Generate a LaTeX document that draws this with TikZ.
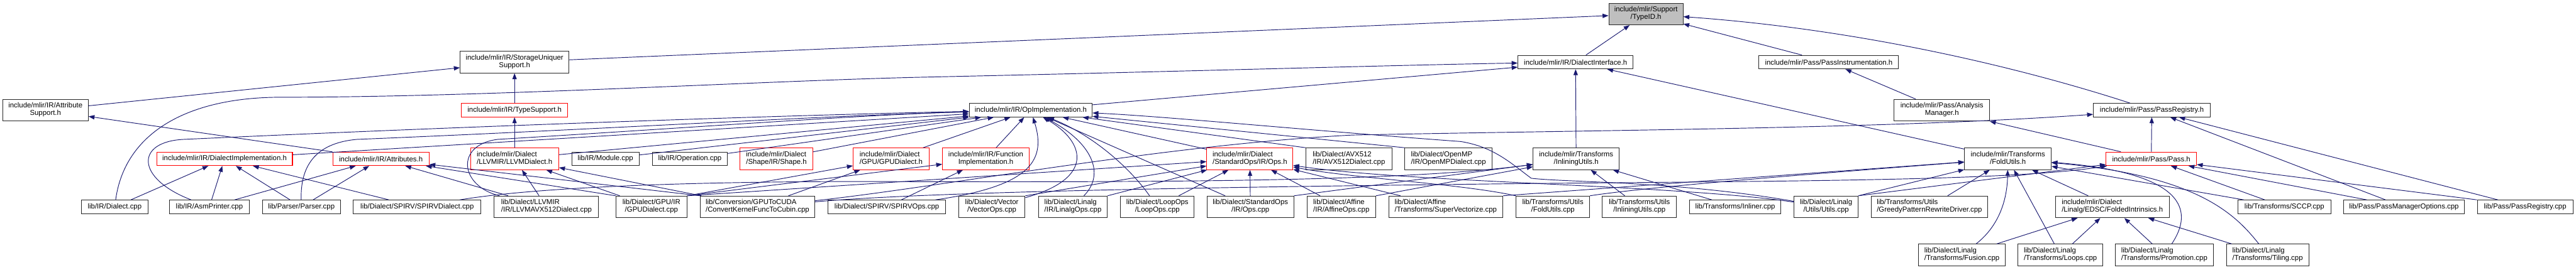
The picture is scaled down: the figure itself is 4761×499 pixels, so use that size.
\documentclass[tikz,border=0pt]{standalone}
\usepackage{fontspec}
\setmainfont{Liberation Sans}
\usetikzlibrary{arrows.meta}
\definecolor{incblue}{HTML}{191970}
\definecolor{rootgray}{HTML}{BFBFBF}
\newcommand\twoline[2]{\begin{tabular}{@{}c@{}}\multicolumn{1}{@{}l@{}}{#1}\\#2\end{tabular}}

\begin{document}
\begin{tikzpicture}[x=1bp, y=-1bp,
        filenode/.style = {rectangle, draw=black!85, line width=1.2bp, fill=white, inner sep=0pt, minimum height=25bp, font=\fontsize{13.3}{14}\selectfont},
        tallnode/.style = {filenode, minimum height=40bp},
        redframe/.style = {draw=red},
        incl/.style = {draw=incblue, line width=1.1bp, -{Triangle[length=11bp, width=8bp]}}
    ]
    \useasboundingbox (0,0) rectangle (4761,499);

    \node[tallnode, fill=rootgray, minimum width=137bp] (typeid) at (3042,26) {\twoline{include/mlir/Support}{/TypeID.h}};

    \node[tallnode, minimum width=201bp] (storage) at (951,115) {\twoline{include/mlir/IR/StorageUniquer}{Support.h}};
    \node[filenode, minimum width=213bp] (dlgif) at (2912,115) {include/mlir/IR/DialectInterface.h};
    \node[filenode, minimum width=258bp] (passinst) at (3380,115) {include/mlir/Pass/PassInstrumentation.h};

    \node[tallnode, minimum width=158bp] (attrsup) at (84,204) {\twoline{include/mlir/IR/Attribute}{Support.h}};
    \node[filenode, redframe, minimum width=196bp] (typesup) at (951,204) {include/mlir/IR/TypeSupport.h};
    \node[filenode, minimum width=227bp] (opimpl) at (1905,204) {include/mlir/IR/OpImplementation.h};
    \node[tallnode, minimum width=177bp] (analysis) at (3589,204) {\twoline{include/mlir/Pass/Analysis}{Manager.h}};
    \node[filenode, minimum width=216bp] (passregh) at (3977,204) {include/mlir/Pass/PassRegistry.h};

    \node[filenode, redframe, minimum width=251bp] (dlimpl) at (415,294) {include/mlir/IR/DialectImplementation.h};
    \node[filenode, redframe, minimum width=178bp] (attrs) at (704,294) {include/mlir/IR/Attributes.h};
    \node[tallnode, redframe, minimum width=163bp] (llvmh) at (951,294) {\twoline{include/mlir/Dialect}{/LLVMIR/LLVMDialect.h}};
    \node[filenode, minimum width=124bp] (modcpp) at (1119,294) {lib/IR/Module.cpp};
    \node[filenode, minimum width=139bp] (opcpp) at (1275,294) {lib/IR/Operation.cpp};
    \node[tallnode, redframe, minimum width=134bp] (shapeh) at (1435,294) {\twoline{include/mlir/Dialect}{/Shape/IR/Shape.h}};
    \node[tallnode, redframe, minimum width=140bp] (gpuh) at (1647,294) {\twoline{include/mlir/Dialect}{/GPU/GPUDialect.h}};
    \node[tallnode, redframe, minimum width=160bp] (funcimpl) at (1822,294) {\twoline{include/mlir/IR/Function}{Implementation.h}};
    \node[tallnode, redframe, minimum width=159bp] (stdh) at (2310,294) {\twoline{include/mlir/Dialect}{/StandardOps/IR/Ops.h}};
    \node[tallnode, minimum width=159bp] (avxcpp) at (2493,294) {\twoline{lib/Dialect/AVX512}{/IR/AVX512Dialect.cpp}};
    \node[tallnode, minimum width=161bp] (ompcpp) at (2677,294) {\twoline{lib/Dialect/OpenMP}{/IR/OpenMPDialect.cpp}};
    \node[tallnode, minimum width=159bp] (inlh) at (2913,294) {\twoline{include/mlir/Transforms}{/InliningUtils.h}};
    \node[tallnode, minimum width=160bp] (foldh) at (3711,294) {\twoline{include/mlir/Transforms}{/FoldUtils.h}};
    \node[filenode, redframe, minimum width=167bp] (passh) at (3976,294) {include/mlir/Pass/Pass.h};

    \node[filenode, minimum width=123bp] (dialcpp) at (212,383) {lib/IR/Dialect.cpp};
    \node[filenode, minimum width=148bp] (asmcpp) at (387,383) {lib/IR/AsmPrinter.cpp};
    \node[filenode, minimum width=144bp] (parsecpp) at (557,383) {lib/Parser/Parser.cpp};
    \node[filenode, minimum width=236bp] (spdcpp) at (771,383) {lib/Dialect/SPIRV/SPIRVDialect.cpp};
    \node[tallnode, minimum width=193bp] (llavxcpp) at (1010,383) {\twoline{lib/Dialect/LLVMIR}{/IR/LLVMAVX512Dialect.cpp}};
    \node[tallnode, minimum width=131bp] (gpucpp) at (1204,383) {\twoline{lib/Dialect/GPU/IR}{/GPUDialect.cpp}};
    \node[tallnode, minimum width=211bp] (cubincpp) at (1400,383) {\twoline{lib/Conversion/GPUToCUDA}{/ConvertKernelFuncToCubin.cpp}};
    \node[filenode, minimum width=218bp] (spopscpp) at (1639,383) {lib/Dialect/SPIRV/SPIRVOps.cpp};
    \node[tallnode, minimum width=123bp] (veccpp) at (1833,383) {\twoline{lib/Dialect/Vector}{/VectorOps.cpp}};
    \node[tallnode, minimum width=127bp] (linopscpp) at (1983,383) {\twoline{lib/Dialect/Linalg}{/IR/LinalgOps.cpp}};
    \node[tallnode, minimum width=136bp] (loopcpp) at (2139,383) {\twoline{lib/Dialect/LoopOps}{/LoopOps.cpp}};
    \node[tallnode, minimum width=160bp] (stdcpp) at (2311,383) {\twoline{lib/Dialect/StandardOps}{/IR/Ops.cpp}};
    \node[tallnode, minimum width=127bp] (affcpp) at (2479,383) {\twoline{lib/Dialect/Affine}{/IR/AffineOps.cpp}};
    \node[tallnode, minimum width=211bp] (supvcpp) at (2672,383) {\twoline{lib/Dialect/Affine}{/Transforms/SuperVectorize.cpp}};
    \node[tallnode, minimum width=136bp] (foldcpp) at (2870,383) {\twoline{lib/Transforms/Utils}{/FoldUtils.cpp}};
    \node[tallnode, minimum width=137bp] (inlcpp) at (3030,383) {\twoline{lib/Transforms/Utils}{/InliningUtils.cpp}};
    \node[filenode, minimum width=169bp] (inlinercpp) at (3207,383) {lib/Transforms/Inliner.cpp};
    \node[tallnode, minimum width=118bp] (linutilcpp) at (3375,383) {\twoline{lib/Dialect/Linalg}{/Utils/Utils.cpp}};
    \node[tallnode, minimum width=215bp] (greedycpp) at (3566,383) {\twoline{lib/Transforms/Utils}{/GreedyPatternRewriteDriver.cpp}};
    \node[tallnode, minimum width=210bp] (foldinth) at (3904,383) {\twoline{include/mlir/Dialect}{/Linalg/EDSC/FoldedIntrinsics.h}};
    \node[filenode, minimum width=172bp] (sccpcpp) at (4222,383) {lib/Transforms/SCCP.cpp};
    \node[filenode, minimum width=223bp] (pmoptcpp) at (4443,383) {lib/Pass/PassManagerOptions.cpp};
    \node[filenode, minimum width=177bp] (passregcpp) at (4667,383) {lib/Pass/PassRegistry.cpp};

    \node[tallnode, minimum width=160bp] (fusioncpp) at (3626,472) {\twoline{lib/Dialect/Linalg}{/Transforms/Fusion.cpp}};
    \node[tallnode, minimum width=157bp] (loopscpp) at (3808,472) {\twoline{lib/Dialect/Linalg}{/Transforms/Loops.cpp}};
    \node[tallnode, minimum width=181bp] (promcpp) at (4000,472) {\twoline{lib/Dialect/Linalg}{/Transforms/Promotion.cpp}};
    \node[tallnode, minimum width=152bp] (tilecpp) at (4191,472) {\twoline{lib/Dialect/Linalg}{/Transforms/Tiling.cpp}};

    \draw[incl] (storage) -- (typeid);
    \draw[incl] (dlgif) -- (typeid);
    \draw[incl] (passinst) -- (typeid);
    \draw[incl] (passregh) .. controls (3750,130) and (3450,55) .. (typeid);
    \draw[incl] (attrsup) -- (storage);
    \draw[incl] (typesup) -- (storage);
    \draw[incl] (dialcpp) .. controls (230,250) and (340,180) .. (520,180) .. controls (900,180) and (1400,150) .. (1700,143) .. controls (2200,132) and (2600,120) .. (dlgif);
    \draw[incl] (opimpl) -- (dlgif);
    \draw[incl] (inlh) -- (dlgif);
    \draw[incl] (foldh) -- (dlgif);
    \draw[incl] (attrs) -- (attrsup);
    \draw[incl] (llvmh) -- (typesup);
    \draw[incl] (analysis) -- (passinst);
    \draw[incl] (passh) -- (analysis);
    \draw[incl] (passh) -- (passregh);
    \draw[incl] (pmoptcpp) -- (passregh);
    \draw[incl] (passregcpp) -- (passregh);
    \draw[incl] (cubincpp) .. controls (1750,345) and (2150,268) .. (2500,250) .. controls (3000,240) and (3500,238) .. (passregh);

    \draw[incl] (dlimpl) -- (opimpl);
    \draw[incl] (asmcpp) .. controls (250,330) and (250,262) .. (340,258) .. controls (900,232) and (1500,212) .. (opimpl);
    \draw[incl] (parsecpp) .. controls (555,310) and (580,265) .. (660,258) .. controls (1100,240) and (1500,215) .. (opimpl);
    \draw[incl] (llavxcpp) .. controls (850,345) and (840,268) .. (920,258) .. controls (1300,235) and (1600,212) .. (opimpl);
    \draw[incl] (llvmh) -- (opimpl);
    \draw[incl] (modcpp) -- (opimpl);
    \draw[incl] (opcpp) -- (opimpl);
    \draw[incl] (shapeh) -- (opimpl);
    \draw[incl] (gpuh) -- (opimpl);
    \draw[incl] (funcimpl) -- (opimpl);
    \draw[incl] (spopscpp) .. controls (1900,345) and (1935,300) .. (opimpl);
    \draw[incl] (veccpp) .. controls (2025,330) and (2005,262) .. (opimpl);
    \draw[incl] (linopscpp) .. controls (2045,320) and (2015,262) .. (opimpl);
    \draw[incl] (loopcpp) .. controls (2095,320) and (2030,255) .. (opimpl);
    \draw[incl] (stdcpp) -- (opimpl);
    \draw[incl] (stdh) -- (opimpl);
    \draw[incl] (avxcpp.north west) -- (opimpl);
    \draw[incl] (ompcpp.north west) -- (opimpl);
    \draw[incl] (linutilcpp) .. controls (3100,335) and (2900,338) .. (2830,330) .. controls (2790,300) and (2760,272) .. (2700,262) .. controls (2400,240) and (2150,215) .. (opimpl);

    \draw[incl] (dialcpp) -- (dlimpl);
    \draw[incl] (asmcpp) -- (dlimpl);
    \draw[incl] (parsecpp) -- (dlimpl);
    \draw[incl] (spdcpp) -- (dlimpl);
    \draw[incl] (asmcpp) -- (attrs);
    \draw[incl] (parsecpp) -- (attrs);
    \draw[incl] (llavxcpp) -- (attrs);
    \draw[incl] (gpucpp.north west) -- (attrs);
    \draw[incl] (cubincpp.north west) -- (attrs);

    \draw[incl] (llavxcpp) -- (llvmh);
    \draw[incl] (gpucpp) -- (llvmh);
    \draw[incl] (cubincpp) -- (llvmh);
    \draw[incl] (gpucpp.north east) -- (gpuh);
    \draw[incl] (cubincpp) -- (gpuh);
    \draw[incl] (gpucpp.north east) -- (funcimpl);
    \draw[incl] (spopscpp) -- (funcimpl);

    \draw[incl] (gpucpp.north east) -- (stdh);
    \draw[incl] (veccpp.north east) -- (stdh);
    \draw[incl] (linopscpp.north east) -- (stdh);
    \draw[incl] (loopcpp) -- (stdh);
    \draw[incl] (stdcpp) -- (stdh);
    \draw[incl] (affcpp) -- (stdh);
    \draw[incl] (supvcpp) -- (stdh);
    \draw[incl] (foldcpp.north west) .. controls (2700,340) and (2500,330) .. (stdh);
    \draw[incl] (linutilcpp) .. controls (3100,342) and (2600,338) .. (stdh);

    \draw[incl] (spdcpp) .. controls (1000,345) and (1300,336) .. (1600,336) .. controls (2200,338) and (2600,335) .. (inlh);
    \draw[incl] (stdcpp.north east) -- (inlh);
    \draw[incl] (affcpp.north east) -- (inlh);
    \draw[incl] (inlcpp) -- (inlh);
    \draw[incl] (inlinercpp) -- (inlh);

    \draw[incl] (supvcpp.north east) -- (foldh);
    \draw[incl] (foldcpp.north east) .. controls (3050,345) and (3400,318) .. (foldh);
    \draw[incl] (linutilcpp.north east) -- (foldh);
    \draw[incl] (greedycpp) -- (foldh);
    \draw[incl] (foldinth) -- (foldh);
    \draw[incl] (fusioncpp) .. controls (3705,410) and (3710,350) .. (foldh);
    \draw[incl] (loopscpp) -- (foldh);
    \draw[incl] (promcpp) .. controls (4055,390) and (4040,320) .. (foldh);
    \draw[incl] (tilecpp) .. controls (4130,395) and (4060,325) .. (foldh);
    \draw[incl] (sccpcpp) -- (foldh);

    \draw[incl] (fusioncpp) -- (foldinth);
    \draw[incl] (loopscpp) -- (foldinth);
    \draw[incl] (promcpp) -- (foldinth);
    \draw[incl] (tilecpp) -- (foldinth);

    \draw[incl] (cubincpp) .. controls (1750,352) and (2400,345) .. (2800,340) .. controls (3300,335) and (3720,335) .. (passh);
    \draw[incl] (linutilcpp.north east) -- (passh);
    \draw[incl] (sccpcpp) -- (passh);
    \draw[incl] (pmoptcpp) -- (passh);
    \draw[incl] (passregcpp.north west) -- (passh);
\end{tikzpicture}
\end{document}
